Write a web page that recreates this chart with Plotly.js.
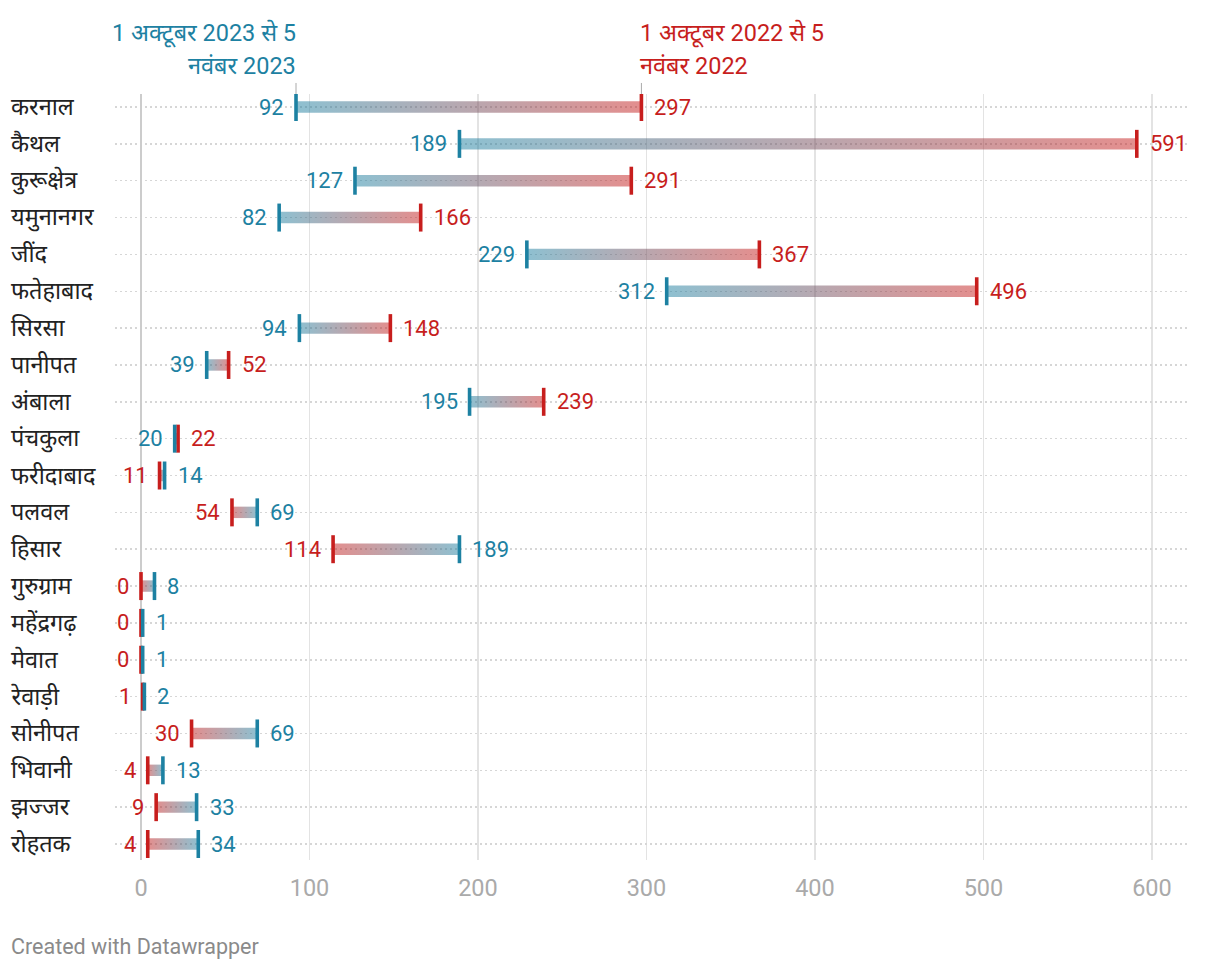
<!DOCTYPE html>
<html>
<head>
<meta charset="utf-8">
<script src="https://cdn.plot.ly/plotly-3.0.1.min.js"></script>
<style>html,body{margin:0;padding:0;background:#fff;}#chart{width:1220px;height:972px;}</style>
</head>
<body>
<div id="chart"></div>
<script>
// ---- data ----
var districts = ["करनाल","कैथल","कुरूक्षेत्र","यमुनानगर","जींद","फतेहाबाद","सिरसा","पानीपत","अंबाला","पंचकुला","फरीदाबाद","पलवल","हिसार","गुरुग्राम","महेंद्रगढ़","मेवात","रेवाड़ी","सोनीपत","भिवानी","झज्जर","रोहतक"];
var values2023 = [92,189,127,82,229,312,94,39,195,20,14,69,189,8,1,1,2,69,13,33,34];
var values2022 = [297,591,291,166,367,496,148,52,239,22,11,54,114,0,0,0,1,30,4,9,4];
var label2023 = ["1 अक्टूबर 2023 से 5", "नवंबर 2023"];
var label2022 = ["1 अक्टूबर 2022 से 5", "नवंबर 2022"];
var xTicks = [0,100,200,300,400,500,600];

// ---- styles ----
var BLUE = "#1d81a2", RED = "#c71e1d";
var BLUE_A = "rgba(29,129,162,0.5)", RED_A = "rgba(199,30,29,0.5)";
var FONT = "Roboto, 'Noto Sans', 'DejaVu Sans', sans-serif";
var HALF = 0.155;

var rows = districts.map(function(d,i){return i;});
var traces = [];

// gradient bars
rows.forEach(function(i){
  var a = values2023[i], b = values2022[i];
  var lo = Math.min(a,b), hi = Math.max(a,b);
  var loCol = (a <= b) ? BLUE_A : RED_A;
  var hiCol = (a <= b) ? RED_A : BLUE_A;
  traces.push({
    type: "scatter", mode: "lines",
    x: [lo, hi, hi, lo, lo],
    y: [i-HALF, i-HALF, i+HALF, i+HALF, i-HALF],
    fill: "toself",
    fillgradient: {type: "horizontal", colorscale: [[0, loCol],[1, hiCol]]},
    line: {width: 0, color: "rgba(0,0,0,0)"},
    hoverinfo: "skip", showlegend: false
  });
});

// end markers
traces.push({
  type: "scatter", mode: "markers", x: values2022, y: rows,
  marker: {symbol: "line-ns", size: 20, line: {width: 3.6, color: RED}, color: RED},
  hoverinfo: "skip", showlegend: false
});
traces.push({
  type: "scatter", mode: "markers", x: values2023, y: rows,
  marker: {symbol: "line-ns", size: 20, line: {width: 3.6, color: BLUE}, color: BLUE},
  hoverinfo: "skip", showlegend: false
});

var annotations = [];
rows.forEach(function(i){
  var a = values2023[i], b = values2022[i];
  var left = (a <= b) ? {v:a, c:BLUE} : {v:b, c:RED};
  var right = (a <= b) ? {v:b, c:RED} : {v:a, c:BLUE};
  annotations.push({x:left.v, y:i, xref:"x", yref:"y", text:String(left.v), showarrow:false,
    xanchor:"right", yanchor:"middle", xshift:-10, font:{family:FONT, size:22, color:left.c}});
  annotations.push({x:right.v, y:i, xref:"x", yref:"y", text:String(right.v), showarrow:false,
    xanchor:"left", yanchor:"middle", xshift:11, font:{family:FONT, size:22, color:right.c}});
  annotations.push({x:-0.099, y:i, xref:"paper", yref:"y", text:districts[i], showarrow:false,
    xanchor:"left", yanchor:"middle", font:{family:FONT, size:23.5, color:"#222"}});
});

// header labels
annotations.push({x:values2023[0], y:1.0796, xref:"x", yref:"paper", text:label2023[0], showarrow:false,
  xanchor:"right", yanchor:"middle", xshift:2, font:{family:FONT, size:23.5, color:BLUE}});
annotations.push({x:values2023[0], y:1.0366, xref:"x", yref:"paper", text:label2023[1], showarrow:false,
  xanchor:"right", yanchor:"middle", xshift:2, font:{family:FONT, size:23.5, color:BLUE}});
annotations.push({x:values2022[0], y:1.0796, xref:"x", yref:"paper", text:label2022[0], showarrow:false,
  xanchor:"left", yanchor:"middle", xshift:-3, font:{family:FONT, size:23.5, color:RED}});
annotations.push({x:values2022[0], y:1.0366, xref:"x", yref:"paper", text:label2022[1], showarrow:false,
  xanchor:"left", yanchor:"middle", xshift:-3, font:{family:FONT, size:23.5, color:RED}});

// footer
annotations.push({x:-0.0985, y:-0.1123, xref:"paper", yref:"paper", text:"Created with Datawrapper", showarrow:false,
  xanchor:"left", yanchor:"middle", font:{family:FONT, size:21.5, color:"#8a8a8a"}});

var shapes = [
  {type:"line", xref:"x", yref:"paper", x0:values2023[0], x1:values2023[0], y0:1.0, y1:1.0144, line:{color:"#aaa", width:1}},
  {type:"line", xref:"x", yref:"paper", x0:values2022[0], x1:values2022[0], y0:1.0, y1:1.0144, line:{color:"#aaa", width:1}}
];

var layout = {
  width: 1220, height: 972,
  margin: {l:115, r:33, t:94, b:112},
  paper_bgcolor: "#fff", plot_bgcolor: "#fff",
  showlegend: false,
  xaxis: {
    range: [-15.43, 620.8], tickvals: xTicks, ticktext: xTicks.map(String),
    showgrid: true, gridcolor: "#e3e3e3", gridwidth: 1.5,
    zeroline: true, zerolinecolor: "#cccccc", zerolinewidth: 2,
    showline: false, ticks: "", ticklabelstandoff: 11,
    tickfont: {family: FONT, size: 23.5, color: "#aaaaaa"}, fixedrange: true
  },
  yaxis: {
    range: [20.434, -0.353], tickvals: rows, showticklabels: false,
    showgrid: true, gridcolor: "#d6d6d6", gridwidth: 1.5, griddash: "2px,3px",
    zeroline: false, showline: false, ticks: "", fixedrange: true
  },
  annotations: annotations,
  shapes: shapes
};

Plotly.newPlot("chart", traces, layout, {displayModeBar: false, staticPlot: true});
</script>
</body>
</html>
